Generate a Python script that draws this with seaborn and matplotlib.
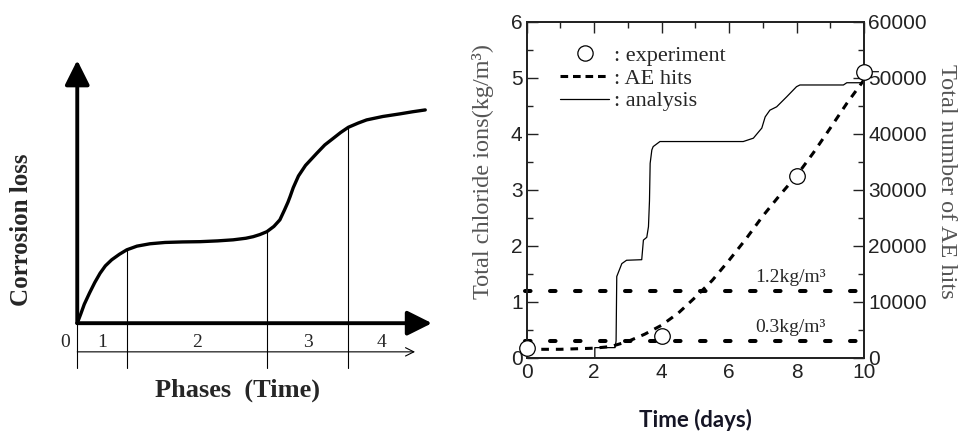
import matplotlib
matplotlib.use('Agg')
import matplotlib.pyplot as plt
from matplotlib.lines import Line2D
import numpy as np
import pandas as pd
import seaborn as sns

# ---- left panel: schematic corrosion curve (arbitrary units)
curve_t = [0, 0.1, 0.2, 0.35, 0.5, 0.65, 0.8, 0.98, 1.2, 1.41, 1.7, 2.07,
           2.5, 3.0, 3.5, 4.0, 4.44, 4.8, 5.01, 5.2, 5.4, 5.6, 5.77, 5.9,
           6.0, 6.06, 6.15, 6.3, 6.5, 6.82, 7.05, 7.29, 7.5, 7.72, 8.0, 8.24,
           8.7, 9.19, 9.55, 9.91]
curve_loss = [0, 0.35, 0.72, 1.15, 1.55, 1.9, 2.18, 2.41, 2.62, 2.79, 2.93,
              3.02, 3.07, 3.09, 3.1, 3.13, 3.17, 3.23, 3.29, 3.37, 3.48, 3.68,
              3.93, 4.3, 4.6, 4.81, 5.15, 5.6, 6.0, 6.46, 6.78, 7.03, 7.25,
              7.45, 7.61, 7.73, 7.86, 7.96, 8.04, 8.11]
phase_edges = [0, 1.42, 5.40, 7.72]
phase_labels = ['1', '2', '3', '4']

# ---- right panel: chloride ions / AE hits
exp_days = [0, 4, 8, 10]
exp_cl = [0.18, 0.38, 3.25, 5.1]

ae_days = [0, 0.5, 1, 1.5, 2, 2.5, 3, 3.5, 4, 4.5, 5, 5.5, 6, 6.5, 7, 7.5,
           8, 8.5, 9, 9.5, 10]
ae_hits = [1500, 1500, 1500, 1600, 1700, 2000, 2900, 4200, 5800, 8000, 10800,
           13800, 17400, 21200, 25300, 29000, 32500, 36600, 41000, 45500, 49600]

ana_days = [0, 2.02, 2.02, 2.62, 2.65, 2.67, 2.82, 2.96, 3.41, 3.46, 3.56,
            3.61, 3.64, 3.66, 3.71, 3.75, 3.95, 6.42, 6.72, 6.97, 7.07, 7.21,
            7.41, 7.71, 8.0, 8.1, 9.39, 9.49, 10]
ana_cl = [0, 0, 0.18, 0.18, 0.3, 1.45, 1.68, 1.74, 1.75, 2.1, 2.15, 2.34,
          2.8, 3.47, 3.71, 3.77, 3.86, 3.86, 3.92, 4.1, 4.3, 4.42, 4.48, 4.66,
          4.84, 4.87, 4.87, 4.91, 4.91]

limits = [1.2, 0.3]
limit_labels = ['1.2kg/m³', '0.3kg/m³']

sns.set_style('white')
plt.rcParams['lines.scale_dashes'] = False
serif = ['Liberation Serif', 'DejaVu Serif']
sans = ['Liberation Sans', 'DejaVu Sans']

fig = plt.figure(figsize=(9.64, 4.36), dpi=100)

# left schematic
axL = fig.add_axes([0, 0, 440 / 964, 1])
axL.set_xlim(-2.20, 10.33)
axL.set_ylim(-4.29, 12.29)
axL.axis('off')

df_curve = pd.DataFrame({'t': curve_t, 'loss': curve_loss})
sns.lineplot(data=df_curve, x='t', y='loss', ax=axL, color='black', lw=2.4,
             estimator=None, sort=False, solid_joinstyle='round',
             solid_capstyle='round')

arrow_kw = dict(arrowstyle='-|>,head_length=1.5,head_width=0.75', lw=2.8,
                color='black', mutation_scale=10, shrinkA=0, shrinkB=0)
axL.annotate('', xy=(0, 10.0), xytext=(0, 0), arrowprops=arrow_kw)
axL.annotate('', xy=(10.1, 0), xytext=(0, 0), arrowprops=arrow_kw)

tl_y, tick_bot = -1.09, -1.70
axL.annotate('', xy=(9.62, tl_y), xytext=(0, tl_y),
             arrowprops=dict(arrowstyle='->,head_length=0.6,head_width=0.3',
                             lw=0.8, color='black', shrinkA=0, shrinkB=0,
                             mutation_scale=10))
for edge in phase_edges:
    top = np.interp(edge, curve_t, curve_loss)
    axL.plot([edge, edge], [top, tick_bot], color='black', lw=0.8)

mids = [(a + b) / 2 for a, b in zip(phase_edges, phase_edges[1:] + [9.62])]
for m, lab in zip(mids, phase_labels):
    axL.text(m, -0.72, lab, ha='center', va='center', fontsize=14,
             family=serif)
axL.text(-0.35, -0.72, '0', ha='center', va='center', fontsize=14,
         family=serif)
axL.text(4.55, -2.54, 'Phases  (Time)', ha='center', va='center',
         fontsize=19, fontweight='bold', family=serif)
axL.text(-1.58, 3.55, 'Corrosion loss', ha='center', va='center',
         rotation=90, fontsize=18, fontweight='bold', family=serif)

# right chart
ax = fig.add_axes([526.7 / 964, 1 - 357.7 / 436, 337.3 / 964, 336 / 436])
ax2 = ax.twinx()

for lv in limits:
    ax.axhline(lv, xmin=-0.005, xmax=1.01, color='black', lw=2.9,
               dashes=(4, 14), dash_capstyle='round', clip_on=False)
for lv, lab in zip(limits, limit_labels):
    ax.text(6.77, lv + 0.16, lab, fontsize=14, family=serif, va='baseline')

df_ana = pd.DataFrame({'day': ana_days, 'cl': ana_cl})
sns.lineplot(data=df_ana, x='day', y='cl', ax=ax, color='black', lw=0.9,
             estimator=None, sort=False)

df_ae = pd.DataFrame({'day': ae_days, 'hits': ae_hits})
sns.lineplot(data=df_ae, x='day', y='hits', ax=ax2, color='black', lw=2.2,
             dashes=False, estimator=None)
ax2.lines[-1].set_dashes((5.5, 5))

df_exp = pd.DataFrame({'day': exp_days, 'cl': exp_cl})
sns.scatterplot(data=df_exp, x='day', y='cl', ax=ax2, s=125, marker='o',
                facecolor='white', edgecolor='black', linewidth=0.9,
                zorder=5, clip_on=False,
                transform=ax.transData)

ax.set_xlim(0, 10)
ax.set_ylim(0, 6)
ax2.set_ylim(0, 60000)
ax.set_xticks(range(0, 11, 2))
ax.set_xticks(range(0, 11), minor=True)
ax.set_yticks(range(0, 7))
ax.set_yticks(np.arange(0, 6.01, 0.5), minor=True)
ax2.set_yticks(range(0, 60001, 10000))
ax2.set_yticks(range(0, 60001, 5000), minor=True)

for a in (ax, ax2):
    for s in a.spines.values():
        s.set_linewidth(1.3)
        s.set_color('#222222')
ax.tick_params(which='both', direction='in', top=True, right=False,
               width=1.0, colors='#222222', labelsize=15, pad=3)
ax.tick_params(which='major', length=8)
ax.tick_params(which='minor', length=4)
ax.tick_params(axis='x', pad=4)
ax2.tick_params(which='both', direction='in', width=1.0, colors='#222222',
                labelsize=15, pad=3)
ax2.tick_params(which='major', length=8)
ax2.tick_params(which='minor', length=4)
for lab in ax.get_xticklabels() + ax.get_yticklabels() + ax2.get_yticklabels():
    lab.set_family(sans)

ax.set_xlabel('Time (days)', fontsize=16, fontweight='bold',
              family=['Lato', 'DejaVu Sans'], color='#151525')
ax.xaxis.set_label_coords(0.5, -0.152)
ax.set_ylabel('Total chloride ions(kg/m³)', fontsize=17.5, family=serif,
              color='#555555')
ax.yaxis.set_label_coords(-0.097, 0.553)
ax2.set_ylabel('Total number of AE hits', fontsize=17.5, family=serif,
               color='#555555', rotation=270, va='center')
ax2.yaxis.set_label_coords(1.245, 0.526)

handles = [
    Line2D([], [], ls='none', marker='o', ms=11, mfc='white', mec='black',
           mew=0.9),
    Line2D([], [], color='black', lw=2.2, dashes=(5.5, 3.5)),
    Line2D([], [], color='black', lw=0.9),
]
ax.legend(handles, [': experiment', ': AE hits', ': analysis'],
          loc='upper left', bbox_to_anchor=(0.10, 0.93), frameon=False,
          prop={'family': serif, 'size': 16}, handlelength=2.2,
          handletextpad=0.2, labelspacing=0.1, borderpad=0, borderaxespad=0)

fig.savefig('out.png', dpi=100)
